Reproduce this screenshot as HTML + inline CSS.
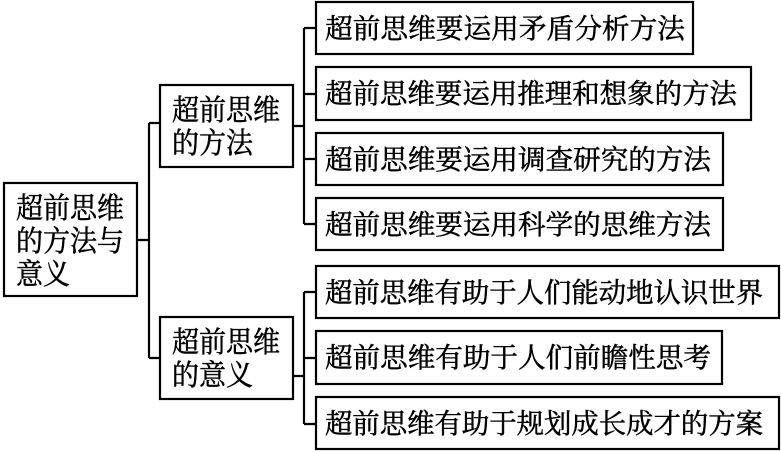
<!DOCTYPE html>
<html><head><meta charset="utf-8"><style>
html,body{margin:0;padding:0;background:#fff;}
svg{display:block}
text{font-family:"Liberation Serif","Noto Serif CJK SC","Noto Sans CJK SC",serif;font-size:27.5px;fill:#000;stroke:#000;stroke-width:0.5;}
.b{font-size:29px;}
</style></head><body>
<svg width="781" height="452" viewBox="0 0 781 452" xmlns="http://www.w3.org/2000/svg">
<g fill="none" stroke="#000" stroke-width="2.2">
<rect x="4" y="183" width="133" height="113"/>
<rect x="160" y="85" width="133" height="82"/>
<rect x="160" y="317" width="133" height="82"/>
<rect x="316" y="2" width="377" height="52"/>
<rect x="316" y="67" width="435" height="53"/>
<rect x="316" y="133" width="407" height="52"/>
<rect x="316" y="198" width="407" height="52"/>
<rect x="316" y="266" width="463" height="52"/>
<rect x="316" y="331" width="406" height="53"/>
<rect x="316" y="397" width="463" height="52"/>
<path d="M137 240H149M149 123V358M149 123H160M149 358H160"/>
<path d="M293 126H304M304 28V224M304 28H316M304 94H316M304 159H316M304 224H316"/>
<path d="M293 376H304M304 292V424M304 292H316M304 358H316M304 424H316"/>
</g>
<text class="b" x="16" y="218" textLength="108" lengthAdjust="spacingAndGlyphs">超前思维</text>
<text class="b" x="16" y="251" textLength="108" lengthAdjust="spacingAndGlyphs">的方法与</text>
<text class="b" x="16" y="284" textLength="54" lengthAdjust="spacingAndGlyphs">意义</text>
<text class="b" x="172" y="120" textLength="108" lengthAdjust="spacingAndGlyphs">超前思维</text>
<text class="b" x="172" y="153" textLength="81" lengthAdjust="spacingAndGlyphs">的方法</text>
<text class="b" x="172" y="352" textLength="108" lengthAdjust="spacingAndGlyphs">超前思维</text>
<text class="b" x="172" y="385" textLength="81" lengthAdjust="spacingAndGlyphs">的意义</text>
<text x="325" y="38" textLength="360" lengthAdjust="spacingAndGlyphs">超前思维要运用矛盾分析方法</text>
<text x="325" y="103" textLength="412" lengthAdjust="spacingAndGlyphs">超前思维要运用推理和想象的方法</text>
<text x="325" y="169" textLength="386" lengthAdjust="spacingAndGlyphs">超前思维要运用调查研究的方法</text>
<text x="325" y="234" textLength="386" lengthAdjust="spacingAndGlyphs">超前思维要运用科学的思维方法</text>
<text x="325" y="302" textLength="438" lengthAdjust="spacingAndGlyphs">超前思维有助于人们能动地认识世界</text>
<text x="325" y="367" textLength="386" lengthAdjust="spacingAndGlyphs">超前思维有助于人们前瞻性思考</text>
<text x="325" y="433" textLength="438" lengthAdjust="spacingAndGlyphs">超前思维有助于规划成长成才的方案</text>
</svg>
</body></html>
